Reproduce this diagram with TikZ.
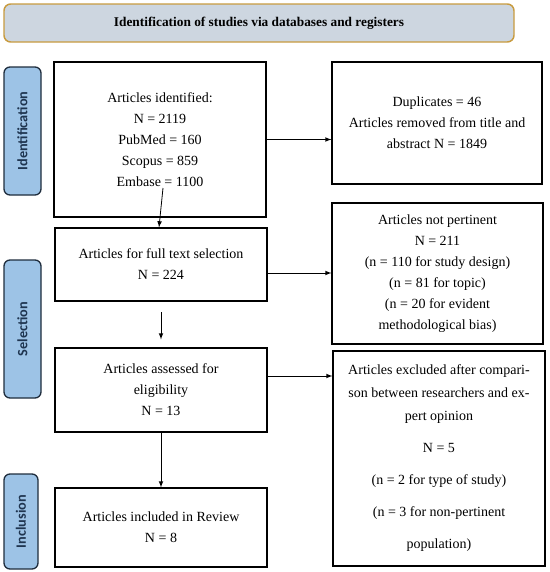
\documentclass[tikz,border=0pt]{standalone}
\usepackage{fontspec}
\setmainfont{Liberation Serif}
\newfontfamily\phasefont{Carlito}
\usepackage{xcolor}
\usepackage{tikz}
\usetikzlibrary{arrows}
\usetikzlibrary{calc}

\definecolor{headfill}{HTML}{CDD6E0}
\definecolor{headline}{HTML}{C89B3F}
\definecolor{phasefill}{HTML}{9DC3E6}
\definecolor{phaseline}{HTML}{1F2D3D}
\definecolor{phasetext}{HTML}{1F3550}

\tikzset{
	box/.style={draw, line width=0.9pt, align=center, inner sep=2pt, font=\fontsize{10.5}{15.75}\selectfont},
	head/.style={draw=headline, fill=headfill, line width=1.1pt, rounded corners=5pt, minimum width=382.5pt, minimum height=28.5pt, font=\bfseries\fontsize{10}{12}\selectfont},
	phase/.style={draw=phaseline, fill=phasefill, line width=1pt, rounded corners=4.5pt, rotate=90, text=phasetext, font=\phasefont\bfseries\fontsize{10.7}{12}\selectfont},
}

\begin{document}
\begin{tikzpicture}[x=0.75pt, y=-0.75pt, >=latex]
	\useasboundingbox (0,0) rectangle (550,572);
	% banner
	\node[head] (hd) at (259,23) {Identification of studies via databases and registers};
	% phases
	\node[phase, minimum width=96pt, minimum height=27.75pt] (pid) at (22.5,131) {Identification};
	\node[phase, minimum width=103.5pt, minimum height=27.75pt] (psel) at (22.5,329) {Selection};
	\node[phase, minimum width=71.25pt, minimum height=25.5pt] (pinc) at (21,521.5) {Inclusion};
	% left column
	\node[box, minimum width=159pt, minimum height=116.25pt] (ident) at (160,139.5)
		{Articles identified:\\ N = 2119\\ PubMed = 160\\ Scopus = 859\\ Embase = 1100};
	\node[box, minimum width=159pt, minimum height=54.75pt] (full) at (161,264.5)
		{Articles for full text selection\\ N = 224};
	\node[box, minimum width=159pt, minimum height=63pt] (assess) at (161,390)
		{Articles assessed for\\ eligibility\\ N = 13};
	\node[box, minimum width=159pt, minimum height=59.25pt] (incl) at (161,527.5)
		{Articles included in Review\\ N = 8};
	% right column
	\node[box, minimum width=157.5pt, minimum height=91.5pt] (dup) at (437,123)
		{Duplicates = 46\\ Articles removed from title and\\ abstract N = 1849};
	\node[box, minimum width=158.25pt, minimum height=105.75pt] (notpert) at (437.5,273.5)
		{Articles not pertinent\\ N = 211\\ (n = 110 for study design)\\ (n = 81 for topic)\\ (n = 20 for evident\\ methodological bias)};
	\node[box, minimum width=159pt, minimum height=161.25pt] (excl) at (439,458.5)
		{Articles excluded after compari-\\[1.5pt] son between researchers and ex-\\[1.5pt] pert opinion\\[8.25pt] N = 5\\[8.25pt] (n = 2 for type of study)\\[8.25pt] (n = 3 for non-pertinent\\[8.25pt] population)};
	% arrows
	\coordinate (s1) at (163,188);
	\coordinate (t1) at ($(full.north)+(-2,0)$);
	\coordinate (a1) at ($(full.east)+(0,8.5)$);
	\coordinate (a2) at ($(assess.east)+(0,-14)$);
	\path[->, line width=0.6pt]
	(ident.east) edge (ident.east -| dup.west)
	(s1) edge (t1)
	(a1) edge (a1 -| notpert.west)
	(full.south) edge[shorten <=8pt, shorten >=6pt] (assess.north)
	(a2) edge (a2 -| excl.west)
	(assess.south) edge (incl.north)
	;
\end{tikzpicture}
\end{document}
